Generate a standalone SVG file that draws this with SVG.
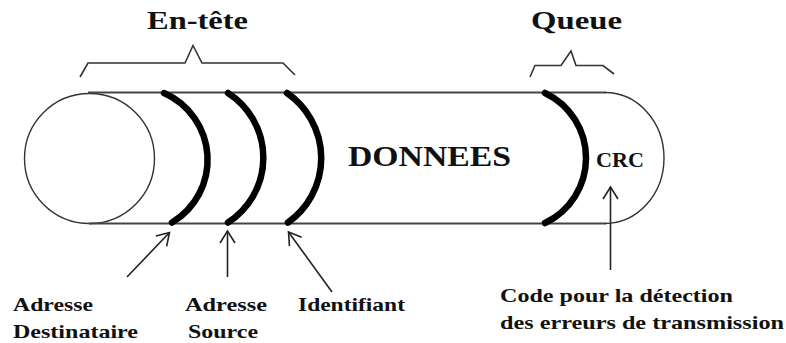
<svg xmlns="http://www.w3.org/2000/svg" width="786" height="343" viewBox="0 0 786 343">
  <style>
    .thin { fill: none; stroke: #333; stroke-width: 1.4; }
    .tube { fill: none; stroke: #444; stroke-width: 2.2; }
    .field { fill: none; stroke: #000; stroke-width: 6.5; stroke-linecap: round; }
    .brace { fill: none; stroke: #333; stroke-width: 1.6; stroke-linejoin: miter; }
    .arrow { fill: none; stroke: #222; stroke-width: 1.6; marker-end: url(#head); }
    text { font-family: "Liberation Serif", "Times New Roman", serif; font-weight: bold; fill: #111; }
    .title { font-size: 26px; }
    .big { font-size: 30px; }
    .crc { font-size: 22px; }
    .label { font-size: 19px; }
  </style>
  <defs>
    <marker id="head" markerUnits="userSpaceOnUse" markerWidth="30" markerHeight="30" refX="0" refY="0" viewBox="-15 -15 30 30" orient="auto">
      <path d="M-12,-7.5 L0,0 L-12,7.5" fill="none" stroke="#222" stroke-width="1.6"/>
    </marker>
  </defs>

  <rect width="786" height="343" fill="#fff"/>

  <!-- frame: cylinder body -->
  <g id="trame">
    <circle cx="89.5" cy="158.5" r="65" class="thin"/>
    <line x1="88" y1="92.5" x2="606" y2="92.5" class="tube"/>
    <line x1="89" y1="223.5" x2="606" y2="223.5" class="tube"/>
    <path d="M605,92.5 A59,65.5 0 0 1 605,223.5" class="thin"/>
  </g>

  <!-- field separators -->
  <g id="champ-destinataire">
    <path d="M164,93 A73,73 0 0 1 172,222.5" class="field"/>
  </g>
  <g id="champ-source">
    <path d="M228,93 A77,77 0 0 1 228,222.5" class="field"/>
  </g>
  <g id="champ-identifiant">
    <path d="M287,93 A79,79 0 0 1 288,222.5" class="field"/>
  </g>
  <g id="champ-crc">
    <path d="M545,93 A72,72 0 0 1 545,223" class="field"/>
  </g>

  <!-- braces -->
  <g id="entete">
    <path d="M80,77 L88,63 L185,63 L193,45.5 L202,63 L283,63 L295,75" class="brace"/>
    <text x="147" y="29" class="title" textLength="101" lengthAdjust="spacingAndGlyphs">En-tête</text>
  </g>
  <g id="queue">
    <path d="M530,77 L535,65.5 L561,65.5 L571,51 L576,65.5 L603,65.5 L614,74" class="brace"/>
    <text x="531" y="29" class="title" textLength="91" lengthAdjust="spacingAndGlyphs">Queue</text>
  </g>

  <g id="donnees">
    <text x="348" y="165.5" class="big" textLength="163" lengthAdjust="spacingAndGlyphs">DONNEES</text>
  </g>
  <g id="crc">
    <text x="596" y="167" class="crc" textLength="48" lengthAdjust="spacingAndGlyphs">CRC</text>
  </g>

  <!-- pointers -->
  <g id="connecteurs">
    <line x1="127" y1="277" x2="169.5" y2="232.5" class="arrow"/>
    <line x1="227.5" y1="277" x2="227.5" y2="231" class="arrow"/>
    <line x1="332" y1="292" x2="288.5" y2="232" class="arrow"/>
    <line x1="610.5" y1="270" x2="610.5" y2="187" class="arrow"/>
  </g>

  <!-- labels -->
  <g id="label-destinataire">
    <text x="13" y="311" class="label" textLength="80" lengthAdjust="spacingAndGlyphs">Adresse</text>
    <text x="13" y="338" class="label" textLength="125" lengthAdjust="spacingAndGlyphs">Destinataire</text>
  </g>
  <g id="label-source">
    <text x="185" y="311" class="label" textLength="82" lengthAdjust="spacingAndGlyphs">Adresse</text>
    <text x="188" y="338" class="label" textLength="70" lengthAdjust="spacingAndGlyphs">Source</text>
  </g>
  <g id="label-identifiant">
    <text x="298" y="311" class="label" textLength="107" lengthAdjust="spacingAndGlyphs">Identifiant</text>
  </g>
  <g id="label-crc">
    <text x="500" y="302" class="label" textLength="233" lengthAdjust="spacingAndGlyphs">Code pour la détection</text>
    <text x="500" y="328.5" class="label" textLength="284" lengthAdjust="spacingAndGlyphs">des erreurs de transmission</text>
  </g>
</svg>
